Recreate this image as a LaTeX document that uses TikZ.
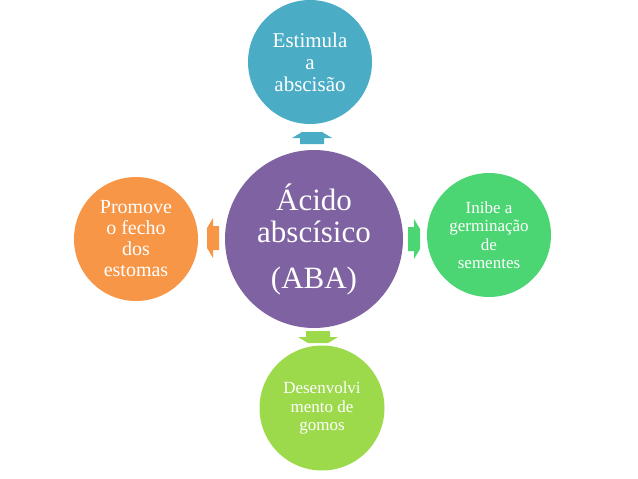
\documentclass[tikz,border=0pt]{standalone}
\usepackage{fontspec}
\setmainfont{Liberation Serif}
\definecolor{cpurple}{HTML}{7F62A2}
\definecolor{cteal}{HTML}{4BACC6}
\definecolor{corange}{HTML}{F79646}
\definecolor{cgreen}{HTML}{4CD673}
\definecolor{clime}{HTML}{9CDA4C}
\newcommand{\myblockarrow}[3]{%
  \begin{scope}[shift={(#1)}, rotate=#2]
    \fill[#3] (-6,-12) -- (0,-12) -- (0,-20) -- (6,-10) -- (6,10) -- (0,20) -- (0,12) -- (-6,12) -- cycle;
  \end{scope}}
\begin{document}
\begin{tikzpicture}[x=1pt,y=-1pt,
  bubble/.style={circle, inner sep=0pt, text=white, align=center}]
\useasboundingbox (0,0) rectangle (638,479);
\node[bubble, fill=cpurple, minimum size=178pt, font=\fontsize{31}{32}\selectfont] (aba) at (314,239) {Ácido\\abscísico\\[14pt](ABA)};
\node[bubble, fill=cteal, minimum size=124pt, font=\fontsize{21}{22}\selectfont] (top) at (310,62) {Estimula\\a\\abscisão};
\node[bubble, fill=corange, minimum size=124pt, font=\fontsize{20}{21}\selectfont] (left) at (136,239) {Promove\\o fecho\\dos\\estomas};
\node[bubble, fill=cgreen, minimum size=124pt, font=\fontsize{17}{18.5}\selectfont] (right) at (489,235) {Inibe a\\germinação\\de\\sementes};
\node[bubble, fill=clime, minimum size=125pt, font=\fontsize{17}{18.5}\selectfont] (bottom) at (322,408) {Desenvolvi\\mento de\\gomos};
\coordinate (a1) at (312,138);
\coordinate (a2) at (213,238);
\coordinate (a3) at (414,239);
\coordinate (a4) at (318,337);
\myblockarrow{a1}{90}{cteal}
\myblockarrow{a2}{180}{corange}
\myblockarrow{a3}{0}{cgreen}
\myblockarrow{a4}{-90}{clime}
\end{tikzpicture}
\end{document}
